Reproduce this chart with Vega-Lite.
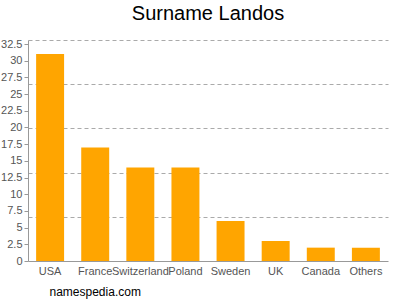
{
  "$schema": "https://vega.github.io/schema/vega-lite/v6.json",
  "width": 360,
  "height": 221,
  "autosize": "none",
  "padding": {"left": 28, "top": 40, "right": 12, "bottom": 39},
  "background": "white",
  "config": {"font": "Liberation Sans", "view": {"stroke": null}},
  "title": {"text": "Surname Landos", "fontSize": 20, "font": "Liberation Sans", "fontWeight": "normal", "color": "#000000", "anchor": "middle", "offset": 14},
  "data": {"values": [
    {"country": "USA", "count": 31},
    {"country": "France", "count": 17},
    {"country": "Switzerland", "count": 14},
    {"country": "Poland", "count": 14},
    {"country": "Sweden", "count": 6},
    {"country": "UK", "count": 3},
    {"country": "Canada", "count": 2},
    {"country": "Others", "count": 2}
  ]},
  "encoding": {
    "x": {
      "field": "country", "type": "nominal", "sort": null,
      "scale": {"paddingInner": 0.38, "paddingOuter": 0.18},
      "axis": {
        "labelAngle": 0, "labelOverlap": false, "ticks": false, "labelPadding": 4,
        "labelFontSize": 11, "labelColor": "#555555", "domainColor": "#999999",
        "title": "namespedia.com", "titleAnchor": "start", "titleAlign": "left",
        "titleX": 21, "titleY": 34, "titleBaseline": "alphabetic",
        "titleFontSize": 12, "titleFontWeight": "normal", "titleColor": "#000000"
      }
    },
    "y": {"field": "count", "type": "quantitative", "scale": {"domain": [0, 33.1], "nice": false}}
  },
  "layer": [
    {
      "mark": {"type": "bar", "opacity": 0},
      "encoding": {
        "y": {"field": "count", "type": "quantitative", "scale": {"domain": [0, 33.1], "nice": false},
          "axis": {"orient": "left", "title": null, "grid": true, "values": [6.62, 13.24, 19.86, 26.48, 33.1],
            "gridDash": [4, 3], "gridColor": "#aaaaaa", "labels": false, "ticks": false, "domain": false}}
      }
    },
    {
      "mark": {"type": "bar", "color": "#FFA500"},
      "encoding": {
        "y": {"field": "count", "type": "quantitative", "scale": {"domain": [0, 33.1], "nice": false},
          "axis": {"orient": "left", "title": null, "grid": false, "format": ".1~f",
            "values": [0, 2.5, 5, 7.5, 10, 12.5, 15, 17.5, 20, 22.5, 25, 27.5, 30, 32.5],
            "tickSize": 4, "tickColor": "#999999", "domainColor": "#999999", "labelPadding": 2,
            "labelFontSize": 11, "labelColor": "#555555"}}
      }
    }
  ],
  "resolve": {"axis": {"y": "independent"}}
}
